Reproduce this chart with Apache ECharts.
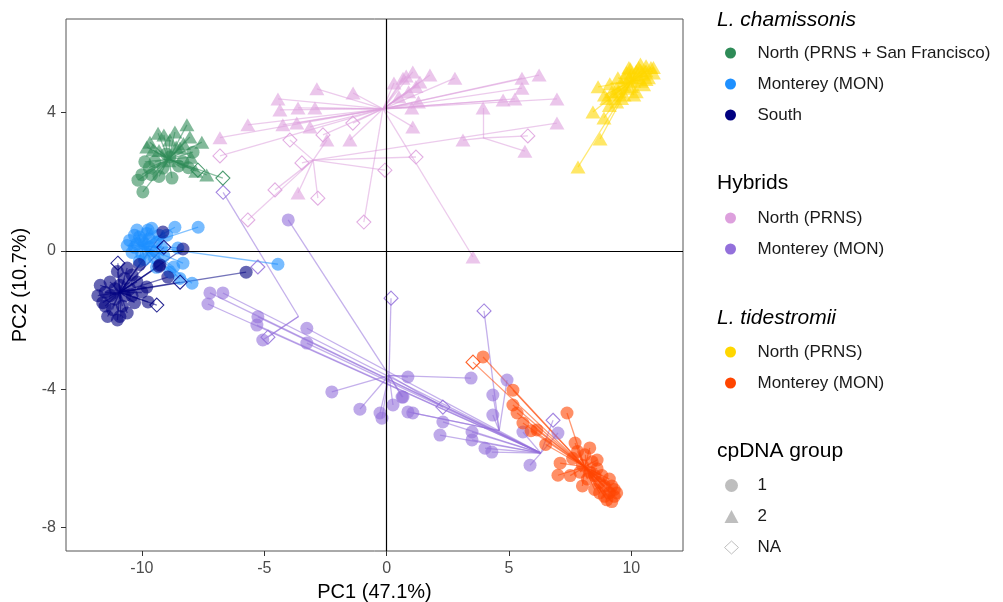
<!DOCTYPE html>
<html><head><meta charset="utf-8">
<script src="https://cdn.jsdelivr.net/npm/echarts@6/dist/echarts.min.js"></script>
<style>html,body{margin:0;padding:0;background:#fff}#c{width:1003px;height:602px}</style>
</head><body><div id="c"></div>
<script>
// tick labels
const xTicks = [-10, -5, 0, 5, 10];
const yTicks = [-8, -4, 0, 4];
// point rows: [PC1, PC2, shape (0=cpDNA 1, 1=cpDNA 2, 2=NA), centroid index]
const chamNorthCent = [[-8.9, 2.65]];
const chamNorth = [
 [-9.67,3.14,1,0],[-9.34,3.40,1,0],[-8.65,3.43,1,0],[-8.16,3.64,1,0],[-7.55,3.14,1,0],[-8.04,3.29,1,0],
 [-8.86,3.20,1,0],[-8.44,2.97,1,0],[-9.55,2.91,1,0],[-7.35,2.19,1,0],[-9.10,3.35,1,0],[-8.90,2.60,1,0],
 [-7.80,2.30,1,0],[-9.80,3.00,1,0],[-8.30,3.10,1,0],[-8.00,2.70,1,0],[-9.30,2.90,1,0],[-8.60,3.00,1,0],
 [-10.16,2.04,0,0],[-9.96,1.70,0,0],[-8.77,2.10,0,0],[-9.88,2.57,0,0],[-9.47,2.57,0,0],[-8.32,2.57,0,0],
 [-7.91,2.85,0,0],[-8.86,2.71,0,0],[-9.14,2.39,0,0],[-10.0,2.2,0,0],[-9.6,2.2,0,0],[-9.3,2.15,0,0],
 [-8.5,2.45,0,0],[-9.0,2.8,0,0],[-8.1,2.4,0,0],[-9.7,2.4,0,0],
 [-6.69,2.10,2,0],[-7.71,2.33,2,0]
];
const chamMonCent = [[-10.0, 0.15]];
const chamMon = [
 [-7.70,0.68,0,0],[-8.65,0.68,0,0],[-10.20,0.60,0,0],[-9.75,0.60,0,0],[-8.98,0.45,0,0],[-8.53,0.08,0,0],
 [-8.32,-0.36,0,0],[-7.95,-0.94,0,0],[-8.45,-0.80,0,0],[-8.85,-0.62,0,0],[-9.40,-0.48,0,0],[-4.44,-0.39,0,0],
 [-8.70,-0.47,0,0],[-10.5,0.30,0,0],[-10.3,0.10,0,0],[-10.1,0.40,0,0],[-9.9,0.20,0,0],[-9.7,0.35,0,0],
 [-10.4,-0.05,0,0],[-10.0,-0.10,0,0],[-9.6,0.00,0,0],[-9.4,0.25,0,0],[-9.2,0.10,0,0],[-9.8,0.50,0,0],
 [-10.6,0.15,0,0],[-9.5,-0.20,0,0],[-10.1,-0.30,0,0],[-9.3,0.45,0,0],[-10.3,0.45,0,0],[-9.9,-0.25,0,0],
 [-9.1,-0.15,0,0],[-9.6,0.65,0,0],[-10.0,0.3,0,0],[-9.7,0.1,0,0],[-10.2,0.2,0,0]
];
const chamSouthCent = [[-10.9, -1.2]];
const chamSouth = [
 [-5.74,-0.62,0,0],[-8.32,0.05,0,0],[-8.94,-0.76,0,0],[-9.80,-1.05,0,0],[-9.30,-0.45,0,0],[-9.14,0.54,0,0],
 [-9.26,-0.41,0,0],[-9.75,-1.48,0,0],
 [-11.5,-1.2,0,0],[-11.3,-0.9,0,0],[-11.1,-1.4,0,0],[-10.9,-1.0,0,0],[-10.7,-1.3,0,0],[-11.6,-1.5,0,0],
 [-11.2,-1.7,0,0],[-10.8,-1.6,0,0],[-10.5,-1.1,0,0],[-10.4,-0.7,0,0],[-10.6,-0.5,0,0],[-11.0,-0.6,0,0],
 [-11.7,-1.0,0,0],[-10.3,-1.5,0,0],[-10.9,-1.9,0,0],[-10.6,-1.8,0,0],[-11.4,-1.9,0,0],[-10.2,-0.9,0,0],
 [-10.0,-1.2,0,0],[-11.0,-2.0,0,0],[-10.7,-0.8,0,0],[-11.3,-1.3,0,0],[-11.8,-1.3,0,0],[-10.1,-0.4,0,0],
 [-11.1,-1.1,0,0],[-10.4,-1.3,0,0],[-11.5,-1.6,0,0],
 [-10.98,-0.36,2,0],[-9.39,-1.57,2,0],[-8.44,-0.91,2,0],[-9.1,0.1,2,0]
];
const hybNorthCent = [[-0.15, 4.1], [-3.0, 2.62], [3.94, 3.26]];
const hybNorth = [
 [-2.85,4.68,1,0],[-1.37,4.56,1,0],[-4.44,4.39,1,0],[-4.36,4.07,1,0],[-3.62,4.13,1,0],[-2.93,4.13,1,0],
 [-4.24,3.64,1,0],[-3.67,3.69,1,0],[-3.13,3.58,1,0],[-5.67,3.64,1,0],[-6.81,3.27,1,0],[-6.81,2.74,2,0],
 [-1.38,3.69,2,0],[-2.60,3.35,2,0],[-0.93,0.83,2,0],[0.67,4.99,1,0],[1.07,5.17,1,0],[1.77,5.08,1,0],
 [1.36,4.88,1,0],[2.79,4.99,1,0],[5.53,4.99,1,0],[6.23,5.08,1,0],[5.53,4.70,1,0],[6.96,4.39,1,0],
 [4.76,4.36,1,0],[5.24,4.39,1,0],[1.03,4.13,1,0],[1.07,3.58,1,0],[3.53,-0.18,1,0],[0.3,4.85,1,0],
 [0.9,4.6,1,0],[0.5,4.45,1,0],[1.3,4.3,1,0],[-1.5,3.2,1,0],[1.2,4.75,1,0],[0.8,5.05,1,0],
 [-3.62,1.67,1,1],[-3.95,3.20,2,1],[-3.46,2.54,2,1],[-4.56,1.76,2,1],[-2.81,1.52,2,1],[-5.67,0.89,2,1],
 [-2.44,3.20,1,1],[-0.07,2.33,2,1],[1.20,2.71,2,1],[6.96,3.69,1,1],
 [3.94,4.13,1,2],[3.12,3.20,1,2],[5.65,2.88,1,2],[5.77,3.32,2,2]
];
const hybMonCent = [[0.1, -3.6], [-3.6, -1.9], [6.3, -5.85], [4.6, -5.2]];
const hybMon = [
 [-4.02,0.89,0,0],[0.18,-1.37,2,0],[0.87,-3.65,0,0],[0.67,-4.23,0,0],[0.63,-4.23,0,0],[0.26,-4.46,0,0],
 [-0.27,-4.69,0,0],[-0.19,-4.84,0,0],[-1.09,-4.58,0,0],[-2.24,-4.08,0,0],[3.45,-3.68,0,0],[2.30,-4.52,2,0],
 [-6.68,1.69,2,1],[-4.85,-2.50,2,1],[-5.06,-2.58,0,1],
 [-7.22,-1.22,0,2],[-6.69,-1.22,0,2],[-7.30,-1.54,0,2],[-5.26,-1.91,0,2],[-5.30,-2.15,0,2],[-3.26,-2.24,0,2],
 [-3.26,-2.67,0,2],[2.18,-5.33,0,2],[2.30,-4.95,0,2],[3.49,-5.24,0,2],[3.49,-5.47,0,2],[4.02,-5.71,0,2],
 [4.30,-5.82,0,2],[5.86,-6.20,0,2],[7.00,-5.27,0,2],[6.80,-4.90,2,2],[5.57,-5.24,0,2],
 [3.98,-1.74,2,3],[4.34,-4.17,0,3],[4.34,-4.75,0,3],[4.92,-3.74,0,3],[0.87,-4.66,0,3],[1.07,-4.69,0,3],
 [-5.26,-0.47,2,-1]
];
const tidNorthCent = [[10.0, 4.9]];
const tidNorth = [
 [7.82,2.42,1,0],[8.72,3.23,1,0],[8.88,3.84,1,0],[8.43,4.01,1,0],[8.64,4.74,1,0],[9.96,5.26,1,0],
 [10.37,5.40,1,0],[10.9,5.14,1,0],[9.45,5.0,1,0],[9.12,4.83,1,0],[9.5,4.6,1,0],[9.8,4.7,1,0],
 [10.1,4.9,1,0],[10.3,5.0,1,0],[10.5,5.1,1,0],[10.6,5.2,1,0],[10.2,5.2,1,0],[9.9,5.0,1,0],
 [9.6,4.8,1,0],[9.3,4.5,1,0],[9.0,4.4,1,0],[10.0,4.75,1,0],[10.4,4.9,1,0],[10.7,5.0,1,0],
 [9.7,4.5,1,0],[10.2,4.6,1,0],[9.4,4.3,1,0],[10.8,5.3,1,0],[10.5,4.8,1,0],[9.9,5.3,1,0],
 [9.2,4.6,1,0],[10.0,5.1,1,0],[10.6,5.35,1,0],[10.3,5.3,1,0],[9.8,5.15,1,0],[9.1,4.2,1,0],[8.9,4.5,1,0],
 [9.6,4.4,1,0],[10.1,4.5,1,0],[9.4,4.7,1,0],[10.4,5.2,1,0],[9.7,5.0,1,0],[10.6,4.95,1,0],[10.9,5.3,1,0]
];
const tidMonCent = [[8.1, -6.25]];
const tidMon = [
 [3.94,-3.07,0,0],[5.16,-4.03,0,0],[5.16,-4.46,0,0],[5.33,-4.69,0,0],[5.57,-4.98,0,0],[6.14,-5.18,0,0],
 [7.37,-4.69,0,0],[7.0,-6.49,0,0],[7.09,-6.14,0,0],[7.7,-5.56,0,0],[6.5,-5.6,0,0],[5.9,-5.2,0,0],
 [3.53,-3.22,2,0],
 [8.0,-6.2,0,0],[8.3,-6.4,0,0],[8.5,-6.5,0,0],[8.7,-6.7,0,0],[8.9,-6.8,0,0],[9.1,-7.0,0,0],
 [9.3,-7.1,0,0],[9.2,-6.8,0,0],[8.8,-6.5,0,0],[8.4,-6.1,0,0],[8.1,-5.9,0,0],[7.9,-6.4,0,0],
 [8.6,-6.3,0,0],[9.0,-7.2,0,0],[9.3,-6.9,0,0],[8.2,-6.6,0,0],[7.6,-6.0,0,0],[7.8,-5.8,0,0],
 [8.7,-7.0,0,0],[9.1,-6.6,0,0],[8.0,-6.8,0,0],[7.5,-6.5,0,0],[8.9,-7.1,0,0],[9.4,-7.0,0,0],
 [8.5,-6.9,0,0],[9.2,-7.25,0,0],[8.6,-6.05,0,0],[8.3,-5.7,0,0]
];

const ZW = '\u200b';
const shapes = ['circle', 'triangle', 'diamond'];
const FONT = 'Liberation Sans, Arial, sans-serif';

function groupSeries(name, color, pts, cents) {
  return [
    {
      type: 'lines', coordinateSystem: 'cartesian2d', name: name + '-seg', silent: true, z: 2,
      lineStyle: { color: color, width: 1.3, opacity: 0.55 },
      data: pts.filter(p => p[3] >= 0).map(p => ({ coords: [cents[p[3]], [p[0], p[1]]] }))
    },
    {
      type: 'scatter', name: name, z: 3, symbol: 'circle', symbolSize: 13, silent: true,
      itemStyle: { color: color, opacity: 0.6 },
      data: pts.map(p => {
        const d = { value: [p[0], p[1]], symbol: shapes[p[2]], symbolSize: p[2] === 1 ? [15, 13] : (p[2] === 2 ? 14 : 13) };
        if (p[2] === 2) d.itemStyle = { color: 'rgba(255,255,255,0)', borderColor: color, borderWidth: 1.1, opacity: 0.85 };
        return d;
      })
    }
  ];
}

const C = {
  green: '#2E8B57', blue: '#1E90FF', navy: '#000080', plum: '#DDA0DD',
  purple: '#9370DB', gold: '#FFD700', orange: '#FF4500', grey: '#BEBEBE'
};

const series = [
  { type: 'scatter', name: 'zero', data: [], z: 1, silent: true,
    markLine: { silent: true, symbol: 'none', label: { show: false }, animation: false,
      lineStyle: { color: '#000', width: 1.2, type: 'solid' },
      data: [{ xAxis: 0 }, { yAxis: 0 }] } },
  ...groupSeries('Monterey (MON)' + ZW, C.purple, hybMon, hybMonCent),
  ...groupSeries('North (PRNS)', C.plum, hybNorth, hybNorthCent),
  ...groupSeries('North (PRNS + San Francisco)', C.green, chamNorth, chamNorthCent),
  ...groupSeries('Monterey (MON)', C.blue, chamMon, chamMonCent),
  ...groupSeries('South', C.navy, chamSouth, chamSouthCent),
  ...groupSeries('North (PRNS)' + ZW, C.gold, tidNorth, tidNorthCent),
  ...groupSeries('Monterey (MON)' + ZW + ZW, C.orange, tidMon, tidMonCent),
  { type: 'scatter', name: '1', data: [], itemStyle: { color: C.grey } },
  { type: 'scatter', name: '2', data: [], itemStyle: { color: C.grey } },
  { type: 'scatter', name: 'NA', data: [], itemStyle: { color: '#fff', borderColor: C.grey } }
];

function legendBlock(top, items) {
  return {
    orient: 'vertical', left: 725, top: top, itemWidth: 12, itemHeight: 11, itemGap: 11,
    selectedMode: false, padding: 0,
    formatter: n => '{t|' + n.replace(/\u200b/g, '') + '}',
    textStyle: { fontSize: 17, lineHeight: 20, color: '#1a1a1a', fontFamily: FONT,
      rich: { t: { fontSize: 17, lineHeight: 20, color: '#1a1a1a', fontFamily: FONT, padding: [0, 0, 0, 16] } } },
    data: items
  };
}
const dot = (name, color) => ({ name: name, icon: 'circle', itemStyle: { color: color, opacity: 1 } });

const titleStyle = (italic) => ({ fontSize: 21, fontWeight: 'normal', fontStyle: italic ? 'italic' : 'normal', color: '#000', fontFamily: FONT });

const option = {
  animation: false,
  textStyle: { fontFamily: FONT },
  title: [
    { text: 'L. chamissonis', left: 717, top: 10, padding: 0, textStyle: titleStyle(true) },
    { text: 'Hybrids', left: 717, top: 173, padding: 0, textStyle: titleStyle(false) },
    { text: 'L. tidestromii', left: 717, top: 308, padding: 0, textStyle: titleStyle(true) },
    { text: 'cpDNA group', left: 717, top: 441, padding: 0, textStyle: titleStyle(false) }
  ],
  legend: [
    legendBlock(43, [dot('North (PRNS + San Francisco)', C.green), dot('Monterey (MON)', C.blue), dot('South', C.navy)]),
    legendBlock(208, [dot('North (PRNS)', C.plum), dot('Monterey (MON)' + ZW, C.purple)]),
    legendBlock(342, [dot('North (PRNS)' + ZW, C.gold), dot('Monterey (MON)' + ZW + ZW, C.orange)]),
    {
      orient: 'vertical', left: 724, top: 475, itemWidth: 14, itemHeight: 13, itemGap: 10,
      selectedMode: false, padding: 0,
      formatter: n => '{t|' + n + '}',
      textStyle: { fontSize: 17, lineHeight: 21, color: '#1a1a1a', fontFamily: FONT,
        rich: { t: { fontSize: 17, lineHeight: 21, color: '#1a1a1a', fontFamily: FONT, padding: [0, 0, 0, 14] } } },
      data: [
        { name: '1', icon: 'circle', itemStyle: { color: C.grey, opacity: 1 } },
        { name: '2', icon: 'triangle', itemStyle: { color: C.grey, opacity: 1 } },
        { name: 'NA', icon: 'diamond', itemStyle: { color: '#fff', borderColor: C.grey, borderWidth: 1, opacity: 1 } }
      ]
    }
  ],
  grid: { left: 66, right: 320, top: 19, bottom: 51, show: true, borderColor: '#555', borderWidth: 1,
    backgroundColor: 'transparent', outerBoundsMode: 'none', containLabel: false },
  xAxis: {
    type: 'value', min: -13.1, max: 12.11,
    splitLine: { show: false }, axisLine: { show: false, onZero: false },
    axisTick: { show: true, length: 5, lineStyle: { color: '#333' }, customValues: xTicks },
    axisLabel: { customValues: xTicks, fontSize: 16, color: '#4d4d4d', margin: 10 },
    name: 'PC1 (47.1%)', nameLocation: 'middle', nameGap: 31,
    nameTextStyle: { fontSize: 20, color: '#000', fontFamily: FONT }
  },
  yAxis: {
    type: 'value', min: -8.68, max: 6.70,
    splitLine: { show: false }, axisLine: { show: false, onZero: false },
    axisTick: { show: true, length: 5, lineStyle: { color: '#333' }, customValues: yTicks },
    axisLabel: { customValues: yTicks, fontSize: 16, color: '#4d4d4d', margin: 10 },
    name: 'PC2 (10.7%)', nameLocation: 'middle', nameGap: 34, nameRotate: 90,
    nameTextStyle: { fontSize: 20, color: '#000', fontFamily: FONT }
  },
  series: series
};
const chart = echarts.init(document.getElementById('c'), null, { renderer: 'canvas' });
chart.setOption(option);
</script>
</body></html>
